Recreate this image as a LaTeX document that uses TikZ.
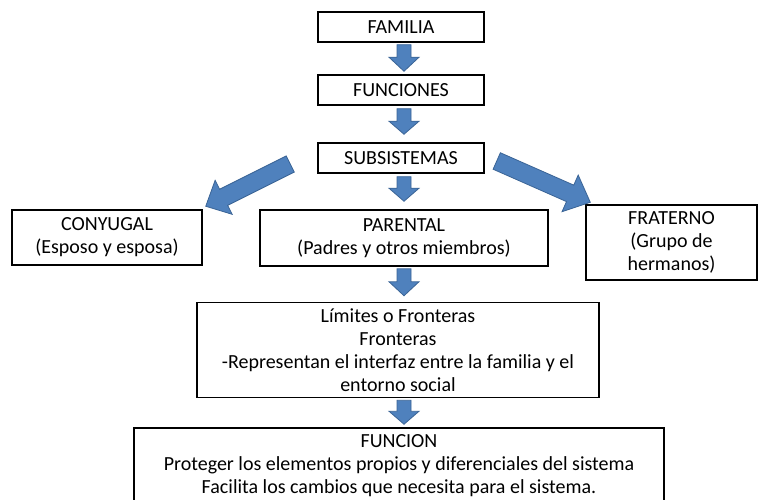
\documentclass[tikz,border=0pt]{standalone}
\usepackage{fontspec}
\setmainfont{Carlito}
\usetikzlibrary{calc}
\definecolor{arrowblue}{HTML}{4F81BD}
\definecolor{arrowedge}{HTML}{3A6496}
\tikzset{
  box/.style={draw=black, line width=1.5pt, align=center, inner sep=0pt,
    font=\fontsize{20}{23}\selectfont},
  barrow/.style={fill=arrowblue, draw=arrowedge, line width=0.8pt, line join=miter}
}
\newcommand\blockarrow[5]{%
  \coordinate (bahead) at ($(#2)!#5!(#1)$);
  \draw[barrow] ($(#1)!#3!90:(#2)$) -- ($(bahead)!#3!90:(#2)$) -- ($(bahead)!#4!90:(#2)$)
    -- (#2) -- ($(bahead)!#4!-90:(#2)$) -- ($(bahead)!#3!-90:(#2)$) -- ($(#1)!#3!-90:(#2)$) -- cycle;}
\begin{document}
\begin{tikzpicture}[x=1pt,y=-1pt]
\useasboundingbox (0,0) rectangle (766,500);
\clip (0,0) rectangle (766,500);
\fill[white] (0,0) rectangle (766,500);
\node[box, minimum width=166pt, minimum height=30pt] (fam) at (401,27) {FAMILIA};
\node[box, minimum width=166pt, minimum height=30pt] (fun) at (401,90) {FUNCIONES};
\node[box, minimum width=166pt, minimum height=30pt] (sub) at (401,158) {SUBSISTEMAS};
\node[box, minimum width=190pt, minimum height=55pt] (con) at (107,237.5) {CONYUGAL\\(Esposo y esposa)};
\node[box, minimum width=288pt, minimum height=56pt] (par) at (404,238) {PARENTAL\\(Padres y otros miembros)};
\node[box, minimum width=171pt, minimum height=75pt] (fra) at (671.5,242.5) {FRATERNO\\(Grupo de\\hermanos)};
\node[box, minimum width=402pt, minimum height=95pt] (lim) at (398,350) {Límites o Fronteras\\Fronteras\\-Representan el interfaz entre la familia y el\\entorno social};
\node[box, minimum width=530pt, minimum height=76pt] (fnc) at (399,466) {FUNCION\\Proteger los elementos propios y diferenciales del sistema\\Facilita los cambios que necesita para el sistema.};
% arrow end points
\coordinate (a1s) at ($(fam.south)+(3,2)$);
\coordinate (a1e) at ($(fun.north)+(3,-3)$);
\coordinate (a2s) at ($(fun.south)+(3,3)$);
\coordinate (a2e) at ($(sub.north)+(3,-8)$);
\coordinate (a3s) at ($(sub.south)+(3,3)$);
\coordinate (a3e) at ($(par.north)+(0,-8)$);
\coordinate (a4s) at ($(par.south)+(0,2)$);
\coordinate (a4e) at ($(lim.north)+(6,-6)$);
\coordinate (a5s) at ($(lim.south)+(6,2)$);
\coordinate (a5e) at ($(fnc.north)+(5,-3)$);
\coordinate (als) at ($(sub.west)+(-27,6)$);
\coordinate (ale) at ($(con.north east)+(3,-3)$);
\coordinate (ars) at ($(sub.east)+(12,3)$);
\coordinate (are) at ($(fra.north west)+(5,-2)$);
\blockarrow{a1s}{a1e}{7pt}{15pt}{14pt}
\blockarrow{a2s}{a2e}{7pt}{15pt}{13pt}
\blockarrow{a3s}{a3e}{7pt}{15pt}{13pt}
\blockarrow{a4s}{a4e}{7pt}{15pt}{14pt}
\blockarrow{a5s}{a5e}{7pt}{15pt}{13pt}
\blockarrow{als}{ale}{9pt}{19pt}{20pt}
\blockarrow{ars}{are}{9pt}{20pt}{22pt}
\end{tikzpicture}
\end{document}
